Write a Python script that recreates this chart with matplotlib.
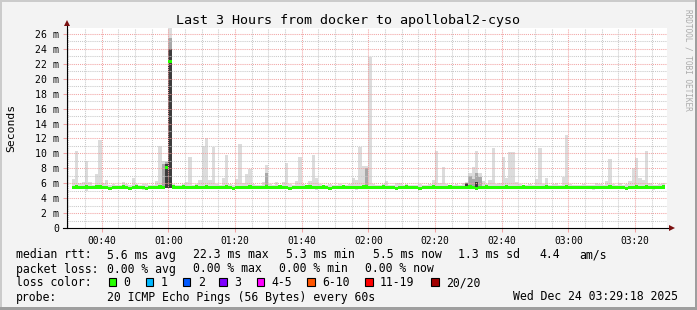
import numpy as np
import matplotlib
matplotlib.use("Agg")
import matplotlib.pyplot as plt
from matplotlib.patches import Rectangle

# ---------------- data ----------------
start_minute = 31  # first sample 00:31 (minutes since 00:00)
x_ticks = [40, 60, 80, 100, 120, 140, 160, 180, 200]
x_tick_labels = ["00:40", "01:00", "01:20", "01:40", "02:00",
                 "02:20", "02:40", "03:00", "03:20"]
y_ticks = [0, 2, 4, 6, 8, 10, 12, 14, 16, 18, 20, 22, 24, 26]

# median rtt per minute (ms)
median_rtt = [
    5.4, 5.5, 5.4, 5.4, 5.5, 5.4, 5.4, 5.5, 5.5, 5.4,
    5.4, 5.3, 5.4, 5.4, 5.4, 5.5, 5.4, 5.3, 5.4, 5.5,
    5.4, 5.4, 5.3, 5.4, 5.4, 5.4, 5.5, 5.4, 8.1, 22.3,
    5.5, 5.4, 5.4, 5.5, 5.4, 5.4, 5.4, 5.5, 5.4, 5.4,
    5.5, 5.4, 5.4, 5.4, 5.4, 5.4, 5.5, 5.4, 5.3, 5.4,
    5.4, 5.4, 5.4, 5.5, 5.4, 5.4, 5.4, 5.4, 5.5, 5.4,
    5.4, 5.4, 5.5, 5.4, 5.4, 5.3, 5.4, 5.4, 5.4, 5.4,
    5.5, 5.5, 5.4, 5.4, 5.4, 5.5, 5.4, 5.3, 5.4, 5.4,
    5.4, 5.5, 5.4, 5.4, 5.4, 5.4, 5.4, 5.5, 5.5, 5.4,
    5.4, 5.4, 5.4, 5.5, 5.4, 5.4, 5.4, 5.3, 5.4, 5.4,
    5.5, 5.4, 5.4, 5.4, 5.3, 5.4, 5.4, 5.4, 5.5, 5.4,
    5.4, 5.4, 5.4, 5.5, 5.4, 5.4, 5.4, 5.4, 5.4, 5.5,
    5.4, 5.3, 5.4, 5.4, 5.5, 5.4, 5.4, 5.4, 5.4, 5.4,
    5.5, 5.4, 5.4, 5.4, 5.4, 5.5, 5.4, 5.4, 5.4, 5.4,
    5.4, 5.4, 5.5, 5.4, 5.4, 5.4, 5.4, 5.4, 5.5, 5.4,
    5.4, 5.4, 5.4, 5.4, 5.4, 5.4, 5.4, 5.4, 5.4, 5.4,
    5.4, 5.5, 5.4, 5.4, 5.4, 5.4, 5.3, 5.4, 5.4, 5.5,
    5.4, 5.4, 5.5, 5.4, 5.4, 5.4, 5.4, 5.5,
]

# highest ping per minute (ms)
ping_max = [
    6.6, 10.3, 6.0, 6.2, 9.0, 6.2, 5.8, 7.2, 11.8, 6.0,
    6.4, 5.8, 5.9, 5.7, 5.8, 6.1, 5.9, 5.8, 6.7, 5.9,
    5.7, 5.9, 5.9, 5.8, 5.8, 6.3, 11.0, 9.0, 9.0, 27.0,
    5.9, 5.8, 5.8, 5.9, 6.2, 9.5, 5.8, 5.9, 6.4, 11.0,
    12.0, 6.4, 10.9, 5.9, 5.8, 6.7, 9.8, 5.9, 5.8, 6.6,
    11.3, 6.0, 7.2, 7.9, 5.9, 5.8, 5.8, 6.1, 8.4, 5.9,
    5.8, 6.2, 5.8, 6.2, 8.7, 5.9, 5.8, 6.3, 9.5, 5.9,
    5.8, 6.3, 9.8, 6.7, 5.9, 5.8, 5.8, 5.9, 5.8, 5.8,
    5.9, 5.8, 5.8, 5.9, 6.7, 6.4, 10.9, 8.3, 8.3, 22.9,
    5.9, 5.8, 5.8, 5.9, 6.3, 5.8, 5.8, 6.0, 6.0, 5.8,
    5.9, 5.8, 5.8, 5.8, 5.9, 5.8, 5.8, 5.9, 6.4, 10.3,
    6.0, 8.2, 5.9, 5.8, 5.8, 5.9, 5.8, 6.0, 6.2, 7.4,
    8.2, 10.3, 7.4, 6.3, 5.9, 6.4, 10.7, 5.9, 6.0, 9.5,
    6.7, 10.2, 10.2, 6.2, 5.9, 5.8, 5.8, 5.9, 5.8, 6.6,
    10.7, 5.9, 6.7, 5.8, 5.9, 6.0, 5.8, 6.9, 12.5, 5.9,
    5.8, 5.8, 5.8, 5.9, 5.8, 5.8, 5.8, 6.0, 5.9, 5.8,
    6.3, 9.2, 5.9, 5.8, 6.0, 5.8, 5.9, 6.3, 8.0, 9.4,
    6.7, 6.4, 10.3, 6.0, 5.8, 5.8, 5.9, 6.0,
]

# lowest ping per minute (ms)
ping_min = [
    5.2, 5.2, 5.2, 5.2, 5.0, 5.2, 5.2, 5.2, 5.2, 5.2,
    5.2, 5.2, 5.2, 5.2, 5.2, 5.2, 5.2, 5.2, 5.2, 5.2,
    5.2, 5.1, 5.2, 5.2, 5.2, 5.2, 5.2, 5.2, 5.3, 5.3,
    5.2, 5.2, 5.2, 5.2, 5.2, 5.2, 5.2, 5.2, 5.2, 5.2,
    5.2, 5.2, 5.2, 5.2, 5.2, 5.2, 5.2, 5.2, 5.2, 5.2,
    5.2, 5.2, 5.2, 5.2, 5.2, 5.2, 5.2, 5.2, 5.2, 5.2,
    5.2, 5.2, 5.2, 5.2, 5.2, 5.2, 5.2, 5.2, 5.2, 5.2,
    5.2, 5.2, 5.2, 5.1, 5.2, 5.2, 5.2, 5.2, 5.2, 5.2,
    5.2, 5.2, 5.2, 5.2, 5.2, 5.1, 5.2, 5.2, 5.2, 5.2,
    5.2, 5.2, 5.2, 5.2, 5.2, 5.2, 5.2, 5.2, 5.2, 5.2,
    5.2, 5.2, 5.2, 5.2, 5.2, 5.2, 5.2, 5.2, 5.2, 5.2,
    5.2, 5.2, 5.2, 5.2, 5.2, 5.2, 5.2, 5.2, 5.2, 5.2,
    5.2, 5.2, 5.2, 5.2, 5.2, 5.2, 5.2, 5.2, 5.2, 5.2,
    5.2, 5.2, 5.2, 5.2, 5.2, 5.2, 5.2, 5.2, 5.2, 5.2,
    5.2, 5.2, 5.2, 5.2, 5.2, 5.2, 5.2, 5.2, 5.2, 5.2,
    5.2, 5.2, 5.2, 5.2, 5.2, 5.2, 5.1, 5.2, 5.2, 5.2,
    5.2, 5.2, 5.2, 5.2, 5.2, 5.2, 5.2, 5.2, 5.2, 5.2,
    5.2, 5.2, 5.2, 5.2, 5.1, 5.2, 5.2, 5.2,
]

# denser inner smoke (upper edge of inner ping bands)
mid_minutes = [58, 59, 60, 89, 119, 150, 151, 152, 153]
mid_upper = [8.6, 8.8, 25.5, 7.4, 8.0, 7.0, 6.6, 7.4, 6.8]
dark_minutes = [59, 60, 149, 152]
dark_upper = [8.6, 24.0, 6.0, 6.2]

loss_labels = ["0", "1", "2", "3", "4-5", "6-10", "11-19", "20/20"]
loss_colors = ["#26ff00", "#00b8ff", "#0059ff", "#7e00ff",
               "#ff00ff", "#ff5500", "#ff0000", "#a10000"]

rtt_stats = ["5.6 ms avg", "22.3 ms max", "5.3 ms min", "5.5 ms now",
             "1.3 ms sd", "4.4", "am/s"]
loss_stats = ["0.00 % avg", "0.00 % max", "0.00 % min", "0.00 % now"]
probe_text = "20 ICMP Echo Pings (56 Bytes) every 60s"
stamp_text = "Wed Dec 24 03:29:18 2025"
title_text = "Last 3 Hours from docker to apollobal2-cyso"

# ---------------- layout ----------------
W, H, DPI = 697, 310, 100
MONO = "DejaVu Sans Mono"
fig = plt.figure(figsize=(W / DPI, H / DPI), dpi=DPI, facecolor="#F3F3F3")


def fx(x):
    return x / W


def fy(y):
    return 1 - y / H


L, R, T, B = 67, 667, 28, 228
ax = fig.add_axes([fx(L), fy(B), (R - L) / W, (B - T) / H])
ax.set_facecolor("white")
ax.set_xlim(29.6, 209.6)
ax.set_ylim(0, 26.8)

n = len(median_rtt)
t = start_minute + np.arange(n)
pmin = np.array(ping_min)
pmax = np.array(ping_max)
med = np.array(median_rtt)
idx = {m: i for i, m in enumerate(t)}

# smoke
ax.bar(t, pmax - pmin, bottom=pmin, width=1, align="edge", color="#DCDCDC",
       linewidth=0, antialiased=False, zorder=2)
mt = np.array(mid_minutes)
mb = pmin[[idx[m] for m in mid_minutes]]
ax.bar(mt, np.array(mid_upper) - mb, bottom=mb, width=1, align="edge",
       color="#A8A8A8", linewidth=0, antialiased=False, zorder=3)
dt = np.array(dark_minutes)
db = pmin[[idx[m] for m in dark_minutes]]
ax.bar(dt, np.array(dark_upper) - db, bottom=db, width=1, align="edge",
       color="#3C3C3C", linewidth=0, antialiased=False, zorder=4)

# grid
minor_c, major_c = "#C9C9C9", "#F2A3A3"
dots = (0, (1, 1))
for v in np.arange(0, 27, 1):
    if v % 2:
        ax.axhline(v, color=minor_c, lw=0.75, ls=dots, zorder=5)
for v in y_ticks[1:]:
    ax.axhline(v, color=major_c, lw=0.75, ls=dots, zorder=5)
for v in np.arange(30, 210, 5):
    if v not in x_ticks:
        ax.axvline(v, color=minor_c, lw=0.75, ls=dots, zorder=5)
for v in x_ticks:
    ax.axvline(v, color=major_c, lw=0.75, ls=dots, zorder=5)

# median (loss colour 0)
band = 0.45
ax.bar(t, np.full(n, band), bottom=med - band / 2, width=1, align="edge",
       color=loss_colors[0], linewidth=0, antialiased=False, zorder=6)

# axes
for s in ["top", "right", "left", "bottom"]:
    ax.spines[s].set_visible(False)
ax.plot([0, 0], [0, 1 + 4 / 200], color="black", lw=0.8,
        transform=ax.transAxes, clip_on=False, zorder=7)
ax.plot([-4 / 600, 1 + 4 / 600], [0, 0], color="black", lw=0.8,
        transform=ax.transAxes, clip_on=False, zorder=7)
ax.plot([0], [1 + 5 / 200], marker="^", ms=4, color="#7A1010",
        transform=ax.transAxes, clip_on=False, zorder=8, mew=0)
ax.plot([1 + 5 / 600], [0], marker=">", ms=4, color="#7A1010",
        transform=ax.transAxes, clip_on=False, zorder=8, mew=0)

ax.set_xticks(x_ticks)
ax.set_xticklabels(x_tick_labels, fontfamily=MONO, fontsize=6.9)
ax.set_yticks(y_ticks)
ax.set_yticklabels(["0"] + [f"{v} m" for v in y_ticks[1:]],
                   fontfamily=MONO, fontsize=7.1)
ax.tick_params(axis="both", length=3, width=0.75, color=major_c, pad=2.5)

# titles
fig.text(fx(348), fy(24), title_text, family=MONO, fontsize=9.6,
         ha="center", va="baseline")
fig.text(fx(11), fy(128), "Seconds", family=MONO, fontsize=8.2,
         rotation=90, ha="center", va="center")
fig.text(fx(688), fy(60), "RRDTOOL / TOBI OETIKER", family=MONO, fontsize=5.6,
         rotation=270, ha="center", va="center", color="#ABABAB")

# legend
LF = 8.3
rows = [258.5, 272.5, 286.5, 300.5]
fig.text(fx(16), fy(rows[0]), "median rtt:", family=MONO, fontsize=LF, va="baseline")
for x, s in zip([107, 193.3, 285.7, 372.7, 458.3, 539, 579.3], rtt_stats):
    fig.text(fx(x), fy(rows[0]), s, family=MONO, fontsize=LF, va="baseline")
fig.text(fx(16), fy(rows[1]), "packet loss:", family=MONO, fontsize=LF, va="baseline")
for x, s in zip([107, 193.3, 279.3, 365], loss_stats):
    fig.text(fx(x), fy(rows[1]), s, family=MONO, fontsize=LF, va="baseline")
fig.text(fx(16), fy(rows[2]), "loss color:", family=MONO, fontsize=LF, va="baseline")
box_x = [108.7, 145.7, 182.7, 219, 256.7, 307.3, 365.3, 431]
lab_x = [123.3, 160.7, 197.7, 234.3, 271.7, 322.3, 380, 445.7]
for bx, lx, c, s in zip(box_x, lab_x, loss_colors, loss_labels):
    fig.add_artist(Rectangle((fx(bx), fy(286)), 7.5 / W, 8 / H,
                             transform=fig.transFigure, facecolor=c,
                             edgecolor="black", linewidth=0.8))
    fig.text(fx(lx), fy(rows[2]), s, family=MONO, fontsize=LF, va="baseline")
fig.text(fx(16), fy(rows[3]), "probe:", family=MONO, fontsize=LF, va="baseline")
fig.text(fx(107.3), fy(rows[3]), probe_text, family=MONO, fontsize=LF, va="baseline")
fig.text(fx(513.3), fy(rows[3]), stamp_text, family=MONO, fontsize=LF, va="baseline")

# frame shading
fig.add_artist(Rectangle((0, fy(2)), 1, 2 / H, transform=fig.transFigure,
                         facecolor="#CBCBCB", lw=0))
fig.add_artist(Rectangle((0, 0), 2 / W, 1, transform=fig.transFigure,
                         facecolor="#CBCBCB", lw=0))
fig.add_artist(Rectangle((0, 0), 1, 3 / H, transform=fig.transFigure,
                         facecolor="#9E9E9E", lw=0))
fig.add_artist(Rectangle((fx(W - 2.5), 0), 2.5 / W, 1, transform=fig.transFigure,
                         facecolor="#9E9E9E", lw=0))

fig.savefig("out.png", dpi=DPI, facecolor=fig.get_facecolor())
